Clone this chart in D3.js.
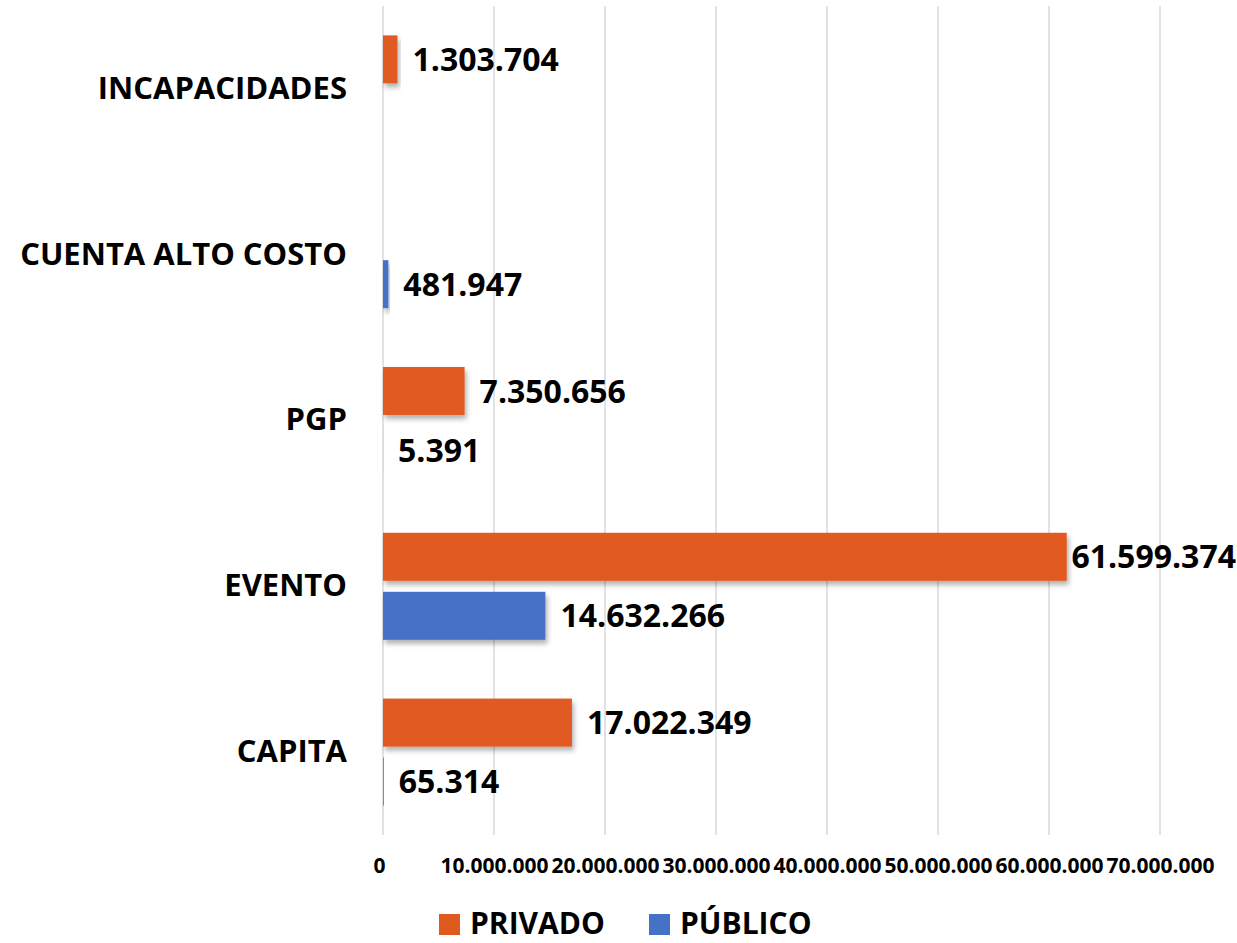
<!DOCTYPE html>
<html>
<head>
<meta charset="utf-8">
<script src="https://cdn.jsdelivr.net/npm/d3@7"></script>
<style>
  body { margin: 0; background: #fff; }
  text { font-family: "Open Sans", sans-serif; font-weight: bold; fill: #000; }
</style>
</head>
<body>
<div id="chart"></div>
<script>
const categories = ["INCAPACIDADES", "CUENTA ALTO COSTO", "PGP", "EVENTO", "CAPITA"];
const seriesNames = ["PRIVADO", "PÚBLICO"];
const privado = [1303704, null, 7350656, 61599374, 17022349];
const publico = [null, 481947, 5391, 14632266, 65314];
const tickValues = [0, 10000000, 20000000, 30000000, 40000000, 50000000, 60000000, 70000000];

const width = 1237, height = 943;
const colors = { "PRIVADO": "#e05a20", "PÚBLICO": "#4472c4" };

const svg = d3.select("#chart").append("svg")
  .attr("width", width)
  .attr("height", height);

// soft shadow under the bars
const defs = svg.append("defs");
defs.append("filter")
  .attr("id", "shadow")
  .attr("x", "-10%").attr("y", "-30%")
  .attr("width", "130%").attr("height", "180%")
  .append("feDropShadow")
  .attr("dx", 2).attr("dy", 4)
  .attr("stdDeviation", 2.5)
  .attr("flood-color", "#000")
  .attr("flood-opacity", 0.3);

const x = d3.scaleLinear().domain([0, 70000000]).range([383, 1160]);
const y = d3.scaleBand().domain(categories).range([6, 835]).padding(0);
const ySub = d3.scaleBand().domain(seriesNames)
  .range([0, y.bandwidth()])
  .paddingInner(0.186)
  .paddingOuter(0.498);

const fmt = v => d3.format(",")(v).replace(/,/g, ".");

// gridlines
svg.append("g")
  .selectAll("line")
  .data(tickValues)
  .join("line")
  .attr("x1", d => x(d)).attr("x2", d => x(d))
  .attr("y1", 6).attr("y2", 835)
  .attr("stroke", "#d9d9d9")
  .attr("stroke-width", 1.5);

// x axis labels
const xAxis = d3.axisBottom(x)
  .tickValues(tickValues)
  .tickFormat(fmt)
  .tickSize(0)
  .tickPadding(0);
const gx = svg.append("g").attr("transform", "translate(0,858)").call(xAxis);
gx.select(".domain").remove();
gx.selectAll("text")
  .attr("font-size", 21)
  .attr("font-family", "Open Sans, sans-serif")
  .attr("font-weight", "bold")
  .attr("fill", "#000")
  .attr("dx", d => d === 0 ? -4 : 0);

// category labels
const yAxis = d3.axisLeft(y).tickSize(0).tickPadding(0);
const gy = svg.append("g").attr("transform", "translate(347,0)").call(yAxis);
gy.select(".domain").remove();
gy.selectAll("text")
  .attr("font-size", 31)
  .attr("font-family", "Open Sans, sans-serif")
  .attr("font-weight", "bold")
  .attr("fill", "#000")
  .attr("dy", "0.32em");

const rows = [];
categories.forEach((c, i) => {
  rows.push({ cat: c, series: "PRIVADO", value: privado[i] });
  rows.push({ cat: c, series: "PÚBLICO", value: publico[i] });
});
const data = rows.filter(d => d.value !== null);

svg.append("g")
  .selectAll("rect")
  .data(data)
  .join("rect")
  .attr("x", x(0))
  .attr("y", d => y(d.cat) + ySub(d.series))
  .attr("width", d => x(d.value) - x(0))
  .attr("height", ySub.bandwidth())
  .attr("fill", d => colors[d.series])
  .attr("filter", "url(#shadow)");

// value labels
svg.append("g")
  .selectAll("text")
  .data(data)
  .join("text")
  .attr("font-size", 32)
  .attr("y", d => y(d.cat) + ySub(d.series) + ySub.bandwidth() / 2)
  .attr("dy", "0.36em")
  .text(d => fmt(d.value))
  .attr("x", function (d) {
    const w = this.getComputedTextLength();
    return Math.min(x(d.value) + 15, width - w - 1);
  });

// legend
const legend = svg.append("g");
const legendX = [439, 649];
seriesNames.forEach((s, i) => {
  legend.append("rect")
    .attr("x", legendX[i]).attr("y", 914)
    .attr("width", 21).attr("height", 21)
    .attr("fill", colors[s]);
  legend.append("text")
    .attr("x", legendX[i] + 31)
    .attr("y", 934)
    .attr("font-size", 30)
    .text(s);
});
</script>
</body>
</html>
